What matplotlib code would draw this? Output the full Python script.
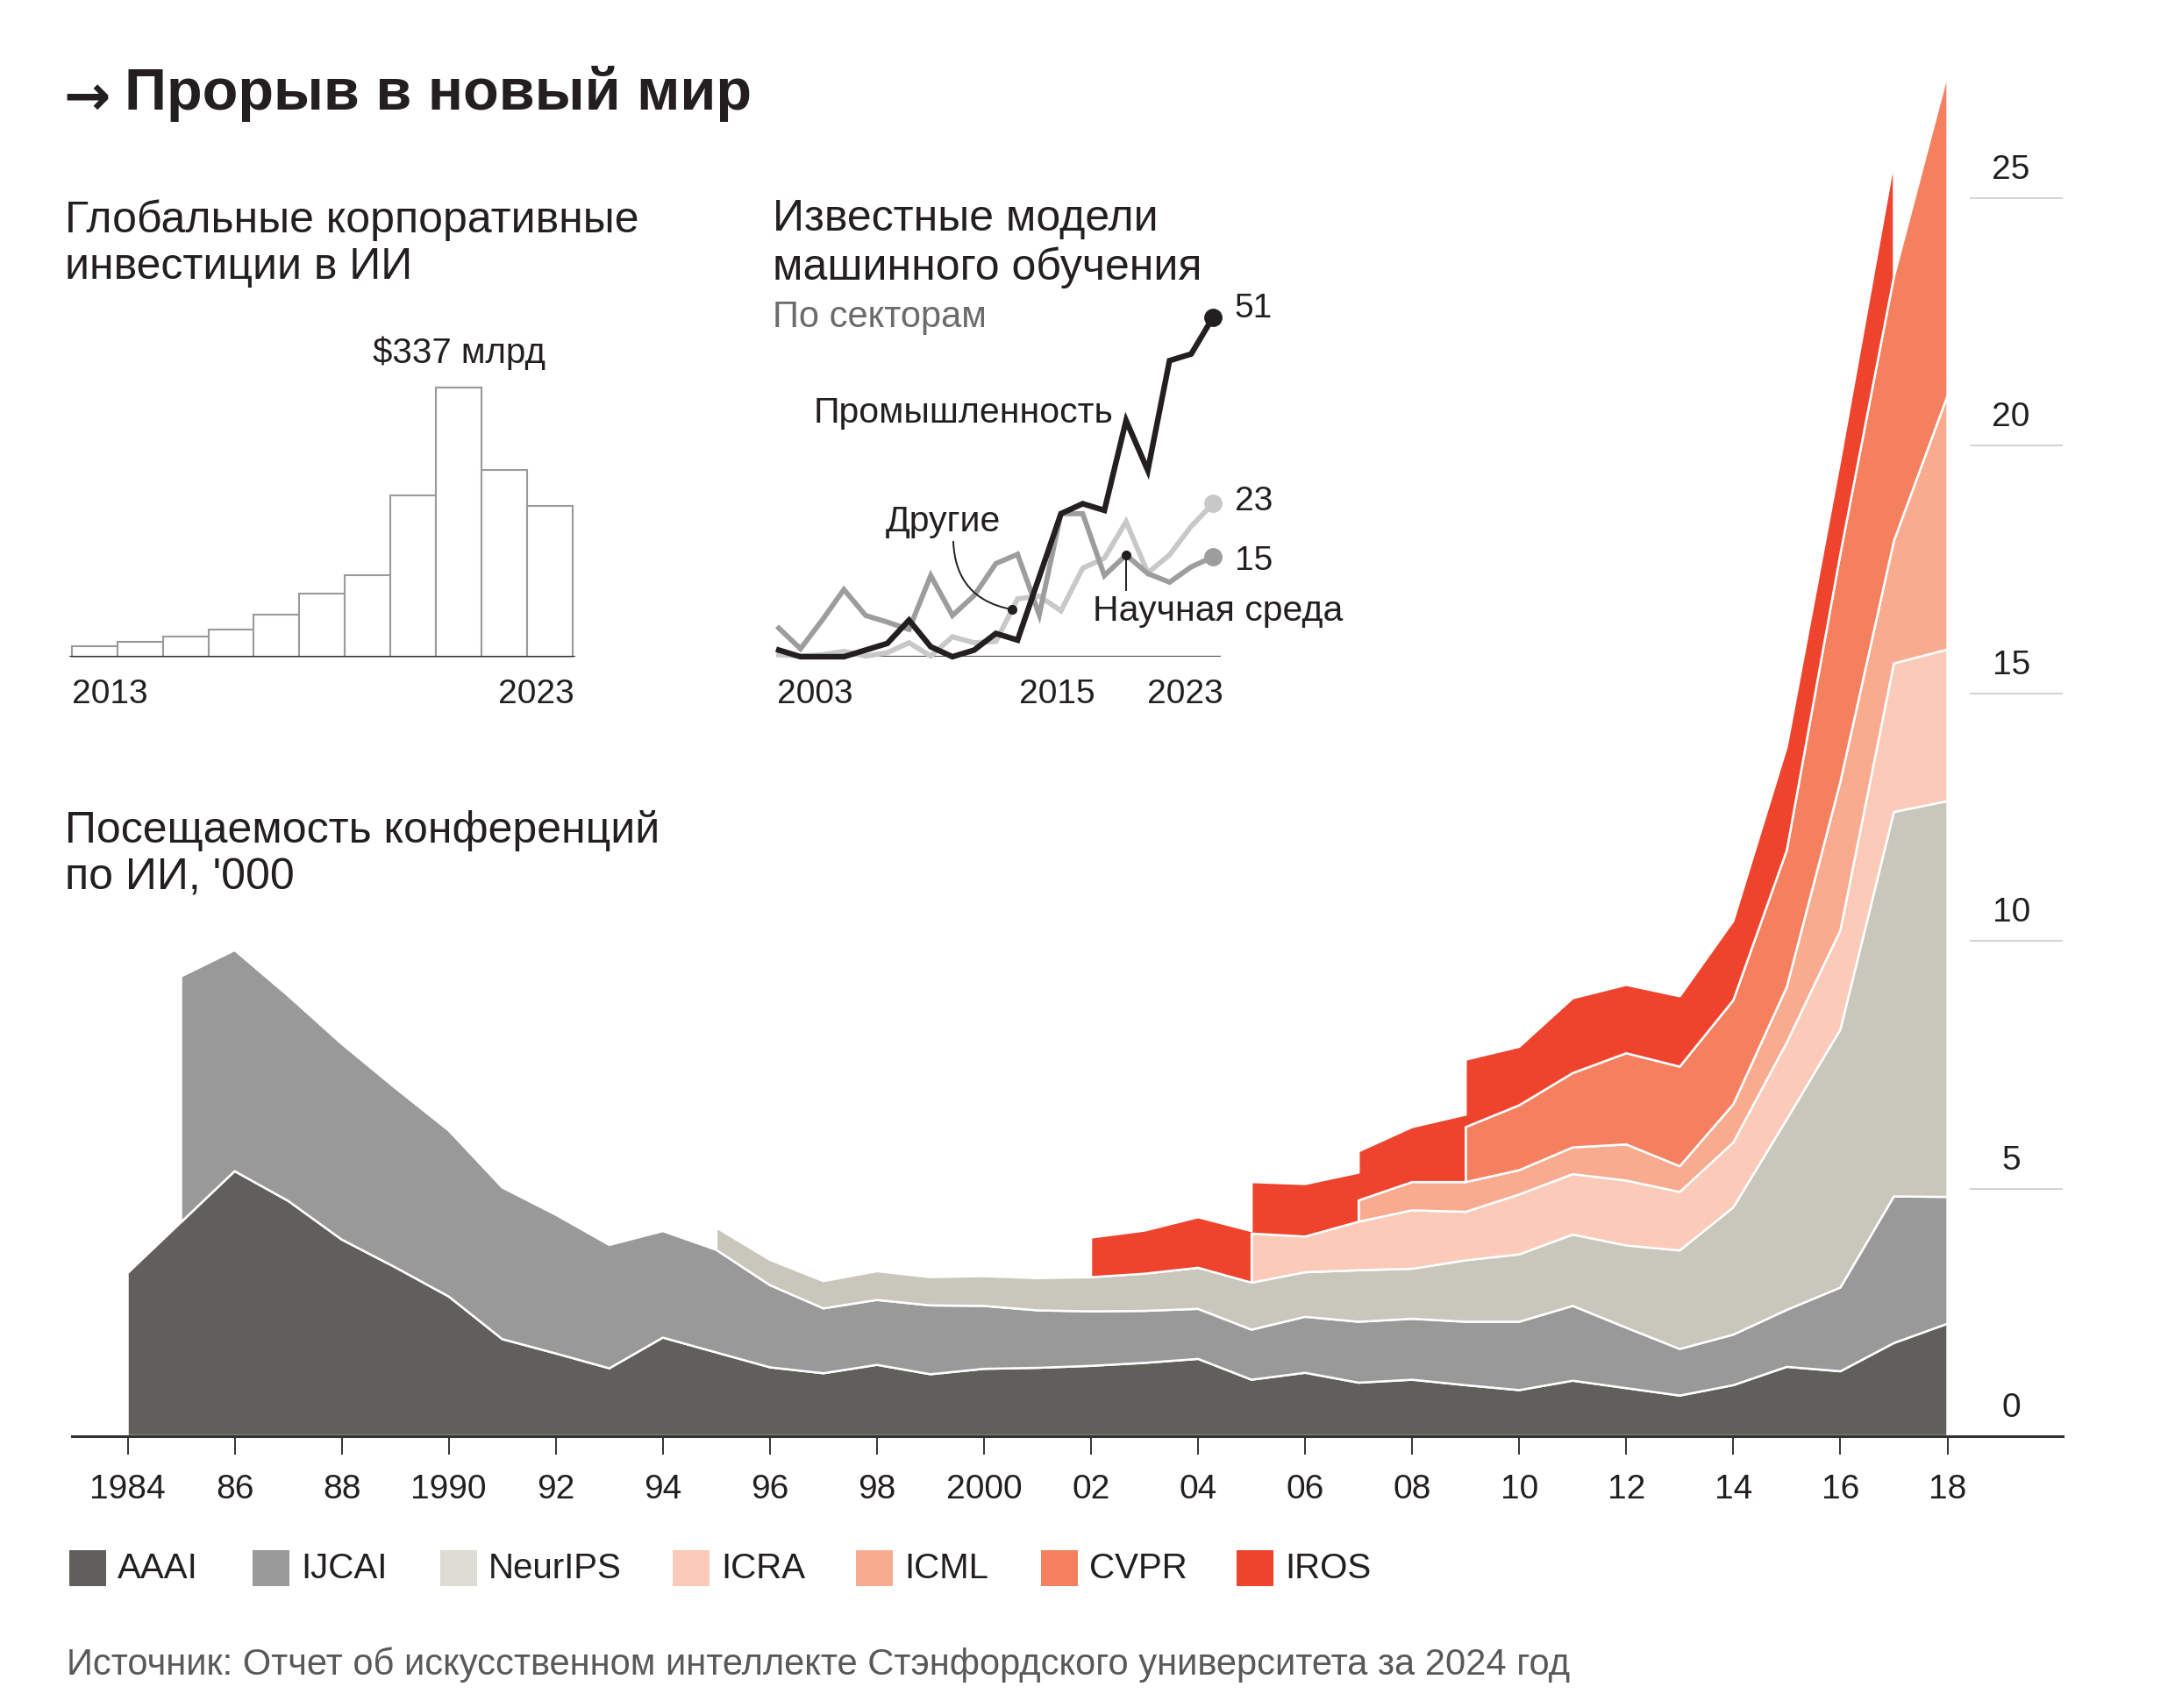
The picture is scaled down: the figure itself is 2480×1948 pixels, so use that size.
import numpy as np
import matplotlib
matplotlib.use('Agg')
import matplotlib.pyplot as plt
from matplotlib.patches import Rectangle

plt.rcParams['font.family'] = ['Liberation Sans', 'DejaVu Sans']

nan = float('nan')

# --- conference attendance, thousands, 1984-2018 ---
conf_years = list(range(1984, 2019))
aaai = [3.29, 4.32, 5.35, 4.75, 3.97, 3.41, 2.82, 1.96, 1.67, 1.37, 1.99, 1.69,
        1.39, 1.27, 1.44, 1.25, 1.36, 1.38, 1.42, 1.48, 1.56, 1.14, 1.28, 1.08,
        1.14, 1.03, 0.93, 1.12, 0.97, 0.82, 1.03, 1.40, 1.31, 1.88, 2.27]
ijcai = [nan, 4.96, 4.46, 4.14, 3.95, 3.62, 3.35, 3.06, 2.80, 2.49, 2.15, 2.07,
         1.66, 1.31, 1.31, 1.39, 1.27, 1.16, 1.10, 1.05, 1.01, 1.01, 1.13, 1.23,
         1.23, 1.28, 1.38, 1.51, 1.22, 0.94, 1.02, 1.15, 1.69, 2.96, 2.56]
neurips = [nan] * 11 + [0.45, 0.51, 0.55, 0.58, 0.57, 0.60, 0.65, 0.69, 0.75, 0.83,
                        0.95, 0.90, 1.04, 1.01, 1.24, 1.36, 1.44, 1.66, 1.99, 2.57,
                        3.85, 5.21, 7.76, 7.99]
icra = [nan] * 21 + [0.99, 0.72, 0.98, 1.18, 0.98, 1.21, 1.22, 1.31, 1.18, 1.31,
                     1.55, 2.00, 3.00, 3.06]
icml = [nan] * 23 + [0.43, 0.57, 0.60, 0.49, 0.54, 0.73, 0.52, 0.77, 1.12, 3.0,
                     2.47, 5.12]
cvpr = [nan] * 25 + [1.11, 1.31, 1.50, 1.84, 2.01, 2.10, 2.76, 4.6, 5.33, 6.5]
iros = [nan] * 18 + [0.80, 0.87, 1.02, 1.04, 1.06, 0.99, 1.11, 1.36, 1.18, 1.51,
                     1.38, 1.42, 1.60, 2.09, 1.9, 2.35] + [nan]

conf_names = ['AAAI', 'IJCAI', 'NeurIPS', 'ICRA', 'ICML', 'CVPR', 'IROS']
conf_colors = ['#605f5b', '#999999', '#c9c7bb', '#fbcab9', '#f9ab90', '#f4805f', '#ee442d']
legend_colors = ['#605f5b', '#999999', '#dcdcd4', '#fbcab9', '#f9ab90', '#f4805f', '#ee442d']

tick_years = list(range(1984, 2019, 2))
tick_labels = ['1984', '86', '88', '1990', '92', '94', '96', '98', '2000', '02',
               '04', '06', '08', '10', '12', '14', '16', '18']
y_ticks = [0, 5, 10, 15, 20, 25]

# --- global corporate AI investment, $bn, 2013-2023 ---
invest_years = list(range(2013, 2024))
invest = [13.5, 18.3, 25.3, 33.7, 53.1, 79.5, 102.6, 202, 337, 234, 188.6]

# --- notable ML models by sector, 2003-2023 ---
model_years = list(range(2003, 2024))
industry = [1, 0, 0, 0, 1, 2, 5.5, 1.5, 0, 1, 3.5, 2.5, 12, 21.5, 23, 22, 35.5,
            28, 44.5, 45.5, 51]
academia = [4.3, 1.2, 5.5, 10.1, 6.2, 5.2, 4.1, 12.2, 6.2, 9.2, 14, 15.4, 6.3,
            21.5, 21.5, 12.2, 15.3, 12.5, 11.2, 13.5, 15]
other = [0.3, 0.1, 0.3, 0.8, 0.1, 0.6, 2.1, 0.1, 3.0, 2.1, 2.3, 8.7, 9.1, 6.9,
         13.3, 14.8, 20.3, 12.6, 15.3, 19.6, 23]

TXT = '#231f20'
W, H = 2480, 1948
fig = plt.figure(figsize=(W / 100, H / 100), dpi=100)
fig.patch.set_facecolor('white')


def fx(px):
    return px / W


def fy(py):
    return 1 - py / H


# ---------------- main stacked area ----------------
px_year = 61.03      # pixels per year
x1984 = 145.5
left_px, right_px = 82, 2352
base_px, px_k = 1638, 56.5
ymax = 28
ax = fig.add_axes([fx(left_px), fy(base_px), (right_px - left_px) / W, ymax * px_k / H])
ax.set_facecolor('none')
ax.set_xlim(1984 - (x1984 - left_px) / px_year, 1984 + (right_px - x1984) / px_year)
ax.set_ylim(0, ymax)

vals = np.array([aaai, ijcai, neurips, icra, icml, cvpr, iros], dtype=float)
defined = ~np.isnan(vals)
yrs = np.array(conf_years)


def stack_at(j, mask):
    v = np.where(mask, np.nan_to_num(vals[:, j]), 0.0)
    tops = np.cumsum(v)
    return tops - v, tops


# a layer is stacked in a segment only if it exists at both ends,
# that gives the vertical steps where a conference starts / stops
for k in range(len(conf_names)):
    upper, lower = [], []
    for j in range(len(yrs) - 1):
        seg = defined[:, j] & defined[:, j + 1]
        if not seg[k]:
            continue
        b0, t0 = stack_at(j, seg)
        b1, t1 = stack_at(j + 1, seg)
        upper += [(yrs[j], t0[k]), (yrs[j + 1], t1[k])]
        lower += [(yrs[j], b0[k]), (yrs[j + 1], b1[k])]
    poly = upper + lower[::-1]
    xs, ys = zip(*poly)
    ax.fill(xs, ys, facecolor=conf_colors[k], edgecolor='white', linewidth=1.8,
            joinstyle='round', zorder=2)

for s in ['top', 'right', 'left']:
    ax.spines[s].set_visible(False)
ax.spines['bottom'].set_color('#333333')
ax.spines['bottom'].set_linewidth(2.2)
ax.spines['bottom'].set_zorder(5)
ax.set_xticks(tick_years)
ax.set_xticklabels(tick_labels)
ax.tick_params(axis='x', length=15, width=1.4, color='#333333', pad=16,
               labelsize=28, labelcolor=TXT)
ax.set_yticks([])

gx0 = 2018 + (2246 - (x1984 + 34 * px_year)) / px_year
ax.hlines([v for v in y_ticks if v > 0], gx0, ax.get_xlim()[1], color='#cccccc', lw=1.2)
for v in y_ticks:
    ax.text(2019.19, v + 0.56, str(v), ha='center', va='center', fontsize=28, color=TXT)

# ---------------- investment bars ----------------
bw = (653 - 81.7) / 11
axb = fig.add_axes([fx(81.7 - 0.05 * bw), fy(749), 11.1 * bw / W, (749 - 442.3) / H])
axb.set_xlim(-0.55, 10.55)
axb.set_ylim(0, 337)
axb.bar(range(len(invest)), invest, width=1, facecolor='white', edgecolor='#9a9a9a',
        linewidth=1.5, clip_on=False)
axb.axhline(0, color='#333333', lw=2.2)
axb.axis('off')
axb.text(invest.index(max(invest)), 380, '$%d млрд' % max(invest), ha='center',
         va='center', fontsize=29, color=TXT, clip_on=False)
fig.text(fx(82), fy(792), str(invest_years[0]), ha='left', va='center', fontsize=28, color=TXT)
fig.text(fx(655), fy(792), str(invest_years[-1]), ha='right', va='center', fontsize=28, color=TXT)

# ---------------- models by sector ----------------
ppy = 24.75
axl = fig.add_axes([fx(886), fy(749), (1392 - 886) / W, (749 - 362) / H])
axl.set_xlim(2003 - 2 / ppy, 2023 + 9 / ppy)
axl.set_ylim(0, 51)
axl.axis('off')
axl.axhline(0, color='#555555', lw=1.6, zorder=1)
axl.plot(model_years, other, color='#c8c8c8', lw=4.2, clip_on=False, zorder=2,
         solid_joinstyle='miter')
axl.plot(model_years, academia, color='#9d9d9d', lw=4.2, clip_on=False, zorder=3,
         solid_joinstyle='miter')
axl.plot(model_years, industry, color='#231f20', lw=4.6, clip_on=False, zorder=4,
         solid_joinstyle='miter')
end_label_shift = [0.3, -0.6, 1.3]
for series, col, dy in zip([other, academia, industry], ['#c8c8c8', '#9d9d9d', '#231f20'],
                           end_label_shift):
    axl.plot(model_years[-1], series[-1], 'o', ms=14, color=col, clip_on=False, zorder=5)
    axl.text(2024.0, series[-1] + dy, '%d' % series[-1], ha='left', va='center',
             fontsize=28, color=TXT, clip_on=False)

axl.text(2018.43, 36.6, 'Промышленность', ha='right', va='center', fontsize=29.5, color=TXT)
axl.text(2007.9, 20.3, 'Другие', ha='left', va='center', fontsize=29.5, color=TXT)
dot_x = 2013.75
dot_y = np.interp(dot_x, model_years, other)
axl.annotate('', xy=(dot_x, dot_y), xytext=(2011.04, 17.3),
             arrowprops=dict(arrowstyle='-', connectionstyle='arc3,rad=0.4',
                             color=TXT, lw=1.4, shrinkA=0, shrinkB=0))
axl.plot(dot_x, dot_y, 'o', ms=7, color=TXT, zorder=6)
ac_x = 2019
ac_y = academia[model_years.index(ac_x)]
axl.plot([ac_x, ac_x], [ac_y, 10.0], color=TXT, lw=1.4, zorder=6)
axl.plot(ac_x, ac_y, 'o', ms=7, color=TXT, zorder=6)
axl.text(2017.46, 6.8, 'Научная среда', ha='left', va='center', fontsize=29.5, color=TXT,
         clip_on=False)

fig.text(fx(886), fy(792), str(model_years[0]), ha='left', va='center', fontsize=28, color=TXT)
fig.text(fx(1205), fy(792), '2015', ha='center', va='center', fontsize=28, color=TXT)
fig.text(fx(1395), fy(792), str(model_years[-1]), ha='right', va='center', fontsize=28, color=TXT)

# ---------------- titles ----------------
fig.text(fx(72), fy(113), '→', fontsize=46, family='DejaVu Sans', fontweight='bold',
         ha='left', va='center', color=TXT)
fig.text(fx(142), fy(107), 'Прорыв в новый мир', fontsize=48, fontweight='bold',
         ha='left', va='center', color=TXT)
fig.text(fx(74), fy(278), 'Глобальные корпоративные\nинвестиции в ИИ', fontsize=36,
         ha='left', va='center', color=TXT, linespacing=1.2)
fig.text(fx(881), fy(278), 'Известные модели\nмашинного обучения', fontsize=36,
         ha='left', va='center', color=TXT, linespacing=1.2)
fig.text(fx(881), fy(362), 'По секторам', fontsize=30, ha='left', va='center',
         color='#6b6b6b')
fig.text(fx(74), fy(974), 'Посещаемость конференций\nпо ИИ, \'000', fontsize=36,
         ha='left', va='center', color=TXT, linespacing=1.22)

# ---------------- legend ----------------
sq_x = [79, 288, 502, 767, 976, 1187, 1410]
for name, col, x in zip(conf_names, legend_colors, sq_x):
    fig.add_artist(Rectangle((fx(x), fy(1809)), 42 / W, 41 / H, transform=fig.transFigure,
                             facecolor=col, edgecolor='none'))
    fig.text(fx(x + 55), fy(1789), name, fontsize=29, ha='left', va='center', color=TXT)

fig.text(fx(76), fy(1899), 'Источник: Отчет об искусственном интеллекте Стэнфордского '
         'университета за 2024 год', fontsize=30, ha='left', va='center', color='#595959')

fig.savefig('out.png', dpi=100, facecolor='white')
